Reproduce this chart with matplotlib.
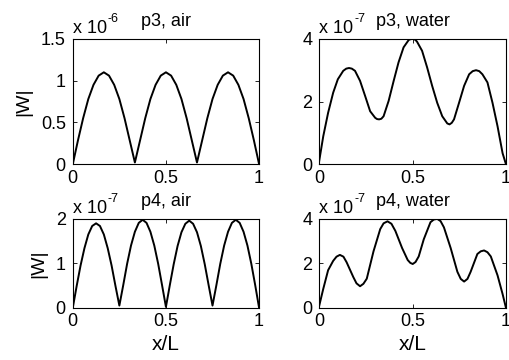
import numpy as np
import matplotlib
matplotlib.use("Agg")
import matplotlib.pyplot as plt

plt.rcParams['font.family'] = ['Liberation Sans', 'DejaVu Sans']

# p3, air  (x 1e-6), 12 steps per hump
x_p3_air = np.linspace(0, 1, 37)
w_p3_air = [0, 0.285, 0.55, 0.78, 0.95, 1.06, 1.10, 1.06, 0.95, 0.78, 0.55, 0.285,
            0.02, 0.285, 0.55, 0.78, 0.95, 1.06, 1.10, 1.06, 0.95, 0.78, 0.55, 0.285,
            0.02, 0.285, 0.55, 0.78, 0.95, 1.06, 1.10, 1.06, 0.95, 0.78, 0.55, 0.285, 0]

# p3, water (x 1e-7)
x_p3_water = [0, 0.022, 0.048, 0.075, 0.10, 0.129, 0.145, 0.16, 0.175, 0.192, 0.219,
              0.246, 0.273, 0.30, 0.31, 0.321, 0.333, 0.345, 0.372, 0.399, 0.425,
              0.452, 0.48, 0.49, 0.503, 0.515, 0.524, 0.551, 0.578, 0.605, 0.632,
              0.659, 0.686, 0.698, 0.71, 0.722, 0.749, 0.776, 0.803, 0.822, 0.84,
              0.857, 0.874, 0.901, 0.928, 0.955, 0.982, 1.0]
w_p3_water = [0.09, 0.89, 1.64, 2.28, 2.71, 2.98, 3.05, 3.07, 3.05, 2.98, 2.66,
              2.18, 1.69, 1.48, 1.44, 1.43, 1.45, 1.53, 2.02, 2.66, 3.25,
              3.73, 3.97, 3.99, 4.0, 3.97, 3.91, 3.62, 3.09, 2.50, 1.96,
              1.53, 1.30, 1.27, 1.32, 1.43, 1.96, 2.50, 2.87, 2.97, 3.00,
              2.97, 2.87, 2.61, 1.96, 1.21, 0.35, 0]

# p4, air (x 1e-7), 12 steps per hump
x_p4_air = np.linspace(0, 1, 49)
w_p4_air = [0, 0.49, 0.95, 1.34, 1.65, 1.84, 1.90, 1.84, 1.65, 1.34, 0.95, 0.49,
            0.05, 0.51, 0.99, 1.40, 1.71, 1.91, 1.98, 1.91, 1.71, 1.40, 0.99, 0.51,
            0.02, 0.51, 0.98, 1.39, 1.70, 1.89, 1.96, 1.89, 1.70, 1.39, 0.98, 0.51,
            0.05, 0.51, 0.99, 1.40, 1.71, 1.91, 1.98, 1.91, 1.71, 1.40, 0.99, 0.51, 0]

# p4, water (x 1e-7)
x_p4_water = [0, 0.022, 0.048, 0.075, 0.093, 0.111, 0.13, 0.147, 0.183, 0.20, 0.219,
              0.237, 0.255, 0.291, 0.327, 0.345, 0.366, 0.387, 0.408, 0.444, 0.474,
              0.488, 0.501, 0.516, 0.533, 0.56, 0.596, 0.614, 0.632, 0.65, 0.668,
              0.704, 0.74, 0.758, 0.776, 0.794, 0.811, 0.847, 0.865, 0.883, 0.901,
              0.919, 0.955, 0.982, 1.0]
w_p4_water = [0.08, 0.85, 1.69, 2.11, 2.30, 2.38, 2.30, 2.05, 1.38, 1.10, 0.97,
              1.08, 1.31, 2.54, 3.54, 3.80, 3.89, 3.78, 3.46, 2.69, 2.15,
              2.02, 1.97, 2.06, 2.31, 3.08, 3.85, 3.97, 4.0, 3.90, 3.62,
              2.69, 1.62, 1.30, 1.18, 1.30, 1.62, 2.42, 2.54, 2.58, 2.50,
              2.31, 1.46, 0.62, 0]

panels = [
    (x_p3_air, w_p3_air, 'p3, air', '-6', [0, 1.5], [0, 0.5, 1, 1.5], ['0', '0.5', '1', '1.5']),
    (x_p3_water, w_p3_water, 'p3, water', '-7', [0, 4], [0, 2, 4], ['0', '2', '4']),
    (x_p4_air, w_p4_air, 'p4, air', '-7', [0, 2], [0, 1, 2], ['0', '1', '2']),
    (x_p4_water, w_p4_water, 'p4, water', '-7', [0, 4], [0, 2, 4], ['0', '2', '4']),
]
boxes = [
    [0.143, 0.544, 0.366, 0.348],
    [0.627, 0.544, 0.367, 0.348],
    [0.143, 0.145, 0.366, 0.247],
    [0.627, 0.145, 0.367, 0.247],
]

fig = plt.figure(figsize=(5.09, 3.6), dpi=100)
fs = 13
axes = []
for i, (x, w, title, expo, ylim, yt, ytl) in enumerate(panels):
    ax = fig.add_axes(boxes[i])
    ax.plot(x, w, color='black', lw=1.4)
    ax.set_xlim(0, 1)
    ax.set_ylim(*ylim)
    ax.set_xticks([0, 0.5, 1])
    ax.set_xticklabels(['0', '0.5', '1'], fontsize=fs)
    ax.set_yticks(yt)
    ax.set_yticklabels(ytl, fontsize=fs)
    ax.tick_params(direction='in', top=True, right=True, length=3, width=0.6)
    ax.tick_params(axis='x', pad=4)
    ax.tick_params(axis='y', pad=5)
    for s in ax.spines.values():
        s.set_linewidth(0.8)
    ax.set_title(title, fontsize=fs, pad=9.5)
    if i % 2 == 0:
        ax.set_ylabel('|W|', fontsize=14, labelpad=6)
    if i >= 2:
        ax.set_xlabel('x/L', fontsize=15, labelpad=3)
    axes.append((ax, expo))

# "x 10^-n" multiplier above each axes, exponent raised like MATLAB does
fig.canvas.draw()
r = fig.canvas.get_renderer()
for ax, expo in axes:
    t = ax.annotate('x 10', xy=(0, 1), xycoords='axes fraction', xytext=(0, 4),
                    textcoords='offset points', fontsize=fs, ha='left', va='baseline')
    bb = t.get_window_extent(r)
    ax.annotate(expo, xy=(bb.x1 / fig.bbox.width + 0.002, 1), xycoords=('figure fraction', 'axes fraction'),
                xytext=(0, 12.5), textcoords='offset points', fontsize=9, ha='left', va='baseline')

fig.savefig('out.png', dpi=100)
